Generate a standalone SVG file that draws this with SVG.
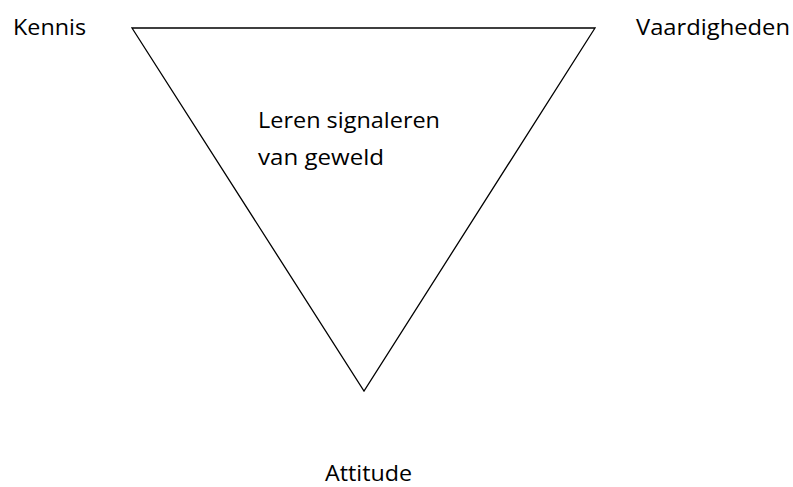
<svg xmlns="http://www.w3.org/2000/svg" width="793" height="487" viewBox="0 0 793 487">
<style>
text{font-family:"Open Sans","Liberation Sans",sans-serif;font-size:21px;fill:#000}
.tri{fill:none;stroke:#000;stroke-width:1.3}
</style>
<rect width="793" height="487" fill="#fff"/>
<g id="triangle"><polygon class="tri" points="132,28 595,28 364,391"/><text x="258" y="128" textLength="182" lengthAdjust="spacingAndGlyphs">Leren signaleren</text><text x="258" y="165" textLength="126" lengthAdjust="spacingAndGlyphs">van geweld</text></g>
<g id="kennis"><text x="13" y="35" textLength="73" lengthAdjust="spacingAndGlyphs">Kennis</text></g>
<g id="vaardigheden"><text x="636" y="35" textLength="154" lengthAdjust="spacingAndGlyphs">Vaardigheden</text></g>
<g id="attitude"><text x="325" y="481" textLength="87" lengthAdjust="spacingAndGlyphs">Attitude</text></g>
<g id="connectors"></g>
</svg>
